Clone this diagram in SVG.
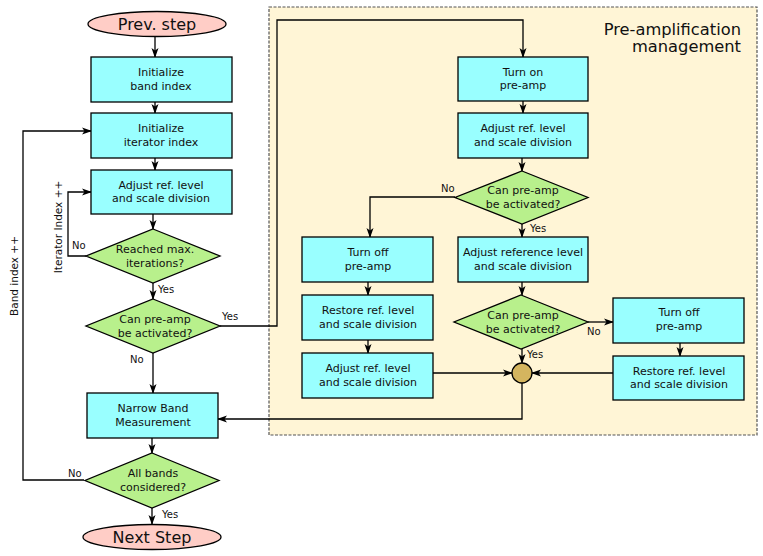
<svg xmlns="http://www.w3.org/2000/svg" width="763" height="556" viewBox="0 0 763 556">
<defs>
<marker id="ah" markerWidth="10" markerHeight="8" viewBox="0 0 10 8" refX="9" refY="4" orient="auto" markerUnits="userSpaceOnUse">
<path d="M0,0.5 L10,4 L0,7.5 L2.5,4 z" fill="#000"/>
</marker>
<style>
text{font-family:"DejaVu Sans","Liberation Sans",sans-serif;fill:#111}
.t{font-size:11px;text-anchor:middle}
.l{font-size:10px}
.big{font-size:16px;text-anchor:middle}
.box{fill:#99ffff;stroke:#000;stroke-width:1.3}
.dia{fill:#b8f08c;stroke:#000;stroke-width:1.3}
.ell{fill:#ffcdc6;stroke:#000;stroke-width:1.3}
.c{fill:none;stroke:#000;stroke-width:1.3;marker-end:url(#ah)}
.cn{fill:none;stroke:#000;stroke-width:1.3}
</style>
</defs>
<rect x="269" y="7" width="488" height="428" fill="#fff5d6" stroke="#555" stroke-width="1.2" stroke-dasharray="3,1.5"/>
<text x="741" y="35" style="font-size:16.3px;text-anchor:end">Pre-amplification</text>
<text x="741" y="52" style="font-size:16.3px;text-anchor:end">management</text>

<g id="connectors">
<path class="c" d="M155,37 V57"/>
<path class="c" d="M155,102 V113"/>
<path class="c" d="M155,158 V170"/>
<path class="c" d="M153,214 V229"/>
<path class="c" d="M86,256 H68 V192 H91"/>
<path class="c" d="M153,283 V299"/>
<path class="c" d="M153,353 V393"/>
<path class="c" d="M152,438 V453"/>
<path class="c" d="M84,480 H23 V131 H91"/>
<path class="c" d="M152,508 V524"/>
<path class="c" d="M220,326 H277 V20 H523 V57"/>
<path class="c" d="M523,101 V113"/>
<path class="c" d="M522,158 V171"/>
<path class="c" d="M455,197 H370 V237"/>
<path class="c" d="M522,224 V237"/>
<path class="c" d="M368,282 V295"/>
<path class="c" d="M368,340 V353"/>
<path class="c" d="M522,282 V295"/>
<path class="c" d="M588,322 H613"/>
<path class="c" d="M680,343 V356"/>
<path class="c" d="M522,349 V363"/>
<path class="c" d="M433,373 H512"/>
<path class="c" d="M613,373 H532"/>
<path class="c" d="M522,383 V419 H218"/>
</g>

<g id="prev"><ellipse class="ell" cx="157" cy="24" rx="69" ry="12.5"/><text class="big" x="157" y="30">Prev. step</text></g>
<g id="initband"><rect class="box" x="91" y="57" width="141" height="45"/><text class="t" x="161" y="76">Initialize</text><text class="t" x="161" y="89.5">band index</text></g>
<g id="inititer"><rect class="box" x="91" y="113" width="141" height="45"/><text class="t" x="161" y="132">Initialize</text><text class="t" x="161" y="145.5">iterator index</text></g>
<g id="adjust1"><rect class="box" x="91" y="170" width="141" height="44"/><text class="t" x="161" y="188.5">Adjust ref. level</text><text class="t" x="161" y="202">and scale division</text></g>
<g id="reached"><polygon class="dia" points="153,229 220,256 153,283 86,256"/><text class="t" x="155" y="253">Reached max.</text><text class="t" x="155" y="267">iterations?</text></g>
<g id="canpre1"><polygon class="dia" points="153,299 220,326 153,353 86,326"/><text class="t" x="155" y="323">Can pre-amp</text><text class="t" x="155" y="337">be activated?</text></g>
<g id="narrow"><rect class="box" x="87" y="393" width="131" height="45"/><text class="t" x="153" y="412">Narrow Band</text><text class="t" x="153" y="426">Measurement</text></g>
<g id="allbands"><polygon class="dia" points="152,453 219,480.5 152,508 85,480.5"/><text class="t" x="153" y="477">All bands</text><text class="t" x="153" y="491">considered?</text></g>
<g id="next"><ellipse class="ell" cx="152" cy="537" rx="69" ry="12.5"/><text class="big" x="152" y="543">Next Step</text></g>

<g id="turnon"><rect class="box" x="458" y="57" width="130" height="44"/><text class="t" x="523" y="75.5">Turn on</text><text class="t" x="523" y="89">pre-amp</text></g>
<g id="adjust2"><rect class="box" x="458" y="113" width="130" height="45"/><text class="t" x="523" y="132">Adjust ref. level</text><text class="t" x="523" y="145.5">and scale division</text></g>
<g id="canpre2"><polygon class="dia" points="522,171 588,197.5 522,224 455,197.5"/><text class="t" x="523" y="194">Can pre-amp</text><text class="t" x="523" y="208">be activated?</text></g>
<g id="turnoff1"><rect class="box" x="302" y="237" width="131" height="45"/><text class="t" x="368" y="256">Turn off</text><text class="t" x="368" y="270">pre-amp</text></g>
<g id="restore1"><rect class="box" x="302" y="295" width="131" height="45"/><text class="t" x="368" y="314">Restore ref. level</text><text class="t" x="368" y="327.5">and scale division</text></g>
<g id="adjust3"><rect class="box" x="302" y="353" width="131" height="45"/><text class="t" x="368" y="372">Adjust ref. level</text><text class="t" x="368" y="385.5">and scale division</text></g>
<g id="adjustref"><rect class="box" x="458" y="237" width="130" height="45"/><text class="t" x="523" y="256">Adjust reference level</text><text class="t" x="523" y="270">and scale division</text></g>
<g id="canpre3"><polygon class="dia" points="521,295 588,322 521,349 454,322"/><text class="t" x="523" y="319">Can pre-amp</text><text class="t" x="523" y="333">be activated?</text></g>
<g id="turnoff2"><rect class="box" x="613" y="298" width="131" height="45"/><text class="t" x="679" y="316">Turn off</text><text class="t" x="679" y="330">pre-amp</text></g>
<g id="restore2"><rect class="box" x="613" y="356" width="131" height="44"/><text class="t" x="679" y="374.5">Restore ref. level</text><text class="t" x="679" y="388">and scale division</text></g>
<g id="join"><circle cx="522" cy="373" r="10" fill="#d4b55f" stroke="#000" stroke-width="1.3"/></g>

<g id="labels">
<text class="l" x="72" y="249">No</text>
<text class="l" x="158" y="293">Yes</text>
<text class="l" x="222" y="320">Yes</text>
<text class="l" x="130" y="363">No</text>
<text class="l" x="68" y="477">No</text>
<text class="l" x="162" y="518">Yes</text>
<text class="l" x="441" y="192">No</text>
<text class="l" x="530" y="232">Yes</text>
<text class="l" x="587" y="335">No</text>
<text class="l" x="527" y="358">Yes</text>
<text style="font-size:10.5px;text-anchor:middle" transform="translate(18,276) rotate(-90)">Band index ++</text>
<text style="font-size:10.5px;text-anchor:middle" transform="translate(62,227) rotate(-90)">Iterator Index ++</text>
</g>
</svg>
